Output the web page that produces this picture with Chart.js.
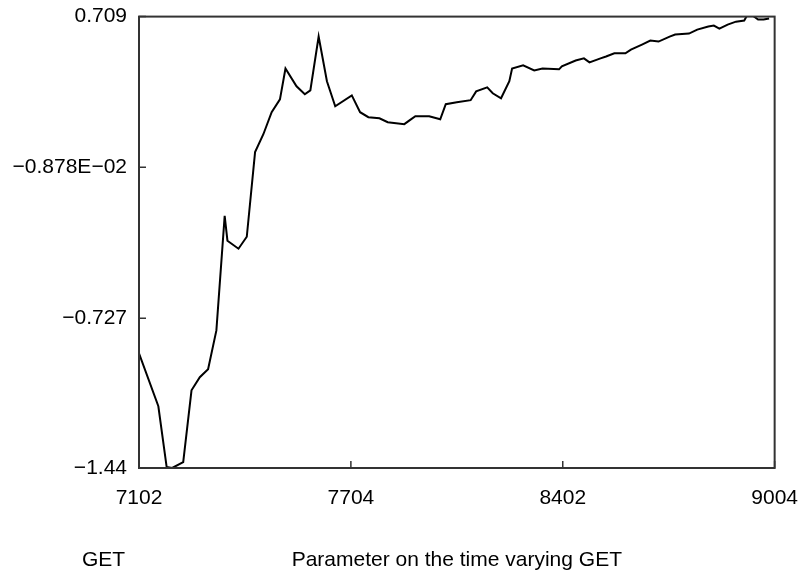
<!DOCTYPE html>
<html>
<head>
<meta charset="utf-8">
<script src="https://cdn.jsdelivr.net/npm/chart.js@4.4.1/dist/chart.umd.min.js"></script>
<style>
  html, body { margin: 0; padding: 0; background: #fff; }
  #wrap { width: 808px; height: 573px; }
</style>
</head>
<body>
<div id="wrap"><canvas id="ctx" width="808" height="573"></canvas></div>
<script>
// months since 7102 (YYMM)
const months = [0, 7, 10, 12, 16, 19, 22, 25, 28, 31, 32, 36, 39, 42, 45, 48, 51, 53, 57, 60,
  62, 65, 68, 71, 77, 80, 83, 87, 90, 96, 98, 100, 105, 109, 111, 115, 120, 122, 126, 128,
  131, 134, 135, 139, 143, 146, 152, 153, 158, 161, 163, 167, 169, 172, 176, 178, 182, 185, 188, 192,
  194, 199, 202, 206, 208, 210, 213, 216, 219, 220, 222, 224, 226, 228];

const getParam = [-0.894, -1.146, -1.435, -1.440, -1.412, -1.070, -1.008, -0.970, -0.785, -0.240,
  -0.358, -0.396, -0.339, 0.064, 0.149, 0.254, 0.315, 0.462, 0.377, 0.339,
  0.358, 0.614, 0.401, 0.282, 0.334, 0.254, 0.230, 0.225, 0.206, 0.197,
  0.216, 0.235, 0.235, 0.220, 0.292, 0.301, 0.311, 0.353, 0.372, 0.344,
  0.320, 0.401, 0.462, 0.477, 0.453, 0.462, 0.458, 0.472, 0.500, 0.510,
  0.491, 0.510, 0.519, 0.534, 0.534, 0.552, 0.576, 0.595, 0.590, 0.614,
  0.624, 0.628, 0.647, 0.662, 0.666, 0.652, 0.671, 0.685, 0.690, 0.714,
  0.714, 0.695, 0.695, 0.700];

const xTickLabels = ['7102', '7704', '8402', '9004'];
const yTickValues = [-1.44, -0.727, -0.00878, 0.709];
const yTickLabels = ['\u22121.44', '\u22120.727', '\u22120.878E\u221202', '0.709'];

const X_MAX = 230;
const FONT = { family: '"Liberation Sans", Arial, Helvetica, sans-serif', size: 21 };

const boxPlugin = {
  id: 'box',
  afterDraw(chart) {
    const { ctx, chartArea: a, scales } = chart;
    ctx.save();
    ctx.strokeStyle = '#333';
    ctx.lineWidth = 2;
    ctx.strokeRect(a.left, a.top, a.right - a.left, a.bottom - a.top);
    // inward tick marks
    ctx.lineWidth = 1.5;
    ctx.beginPath();
    scales.y.ticks.forEach(t => {
      const y = scales.y.getPixelForValue(t.value);
      ctx.moveTo(a.left, y);
      ctx.lineTo(a.left + 7, y);
    });
    scales.x.ticks.forEach(t => {
      const x = scales.x.getPixelForValue(t.value);
      ctx.moveTo(x, a.bottom);
      ctx.lineTo(x, a.bottom - 7);
    });
    ctx.stroke();
    // left caption under the axis, same line as the axis title
    ctx.fillStyle = '#000';
    ctx.font = FONT.size + 'px ' + FONT.family;
    ctx.textBaseline = 'middle';
    ctx.textAlign = 'left';
    ctx.fillText('GET', 82, scales.x.bottom - FONT.size * 0.6);
    ctx.restore();
  }
};

const data = {
  datasets: [{
    label: 'GET',
    data: months.map((m, i) => ({ x: m, y: getParam[i] })),
    borderColor: '#000',
    borderWidth: 2,
    pointRadius: 0,
    tension: 0,
    fill: false
  }]
};

const config = {
  type: 'line',
  data: data,
  options: {
    responsive: false,
    animation: false,
    layout: { autoPadding: false, padding: { top: 15, right: 23, bottom: 0, left: 0 } },
    plugins: {
      legend: { display: false },
      tooltip: { enabled: false }
    },
    scales: {
      x: {
        type: 'linear',
        min: 0,
        max: X_MAX,
        grid: { display: false },
        border: { display: false },
        afterBuildTicks: s => {
          s.ticks = xTickLabels.map((_, i) => ({ value: X_MAX * i / (xTickLabels.length - 1) }));
        },
        afterFit: s => { s.height = 105; },
        ticks: {
          color: '#000',
          font: FONT,
          padding: 10,
          maxRotation: 0,
          autoSkip: false,
          callback: (v, i) => xTickLabels[i]
        },
        title: {
          display: true,
          text: 'Parameter on the time varying GET',
          color: '#000',
          font: FONT,
          padding: { top: 0, bottom: 0 }
        }
      },
      y: {
        min: -1.44,
        max: 0.709,
        grid: { display: false },
        border: { display: false },
        afterBuildTicks: s => {
          s.ticks = yTickValues.map(v => ({ value: v }));
        },
        afterFit: s => { s.width = 139; },
        ticks: {
          color: '#000',
          font: FONT,
          padding: 4,
          autoSkip: false,
          callback: (v, i) => yTickLabels[i]
        }
      }
    }
  },
  plugins: [boxPlugin]
};

const chart = new Chart(document.getElementById('ctx'), config);
</script>
</body>
</html>
